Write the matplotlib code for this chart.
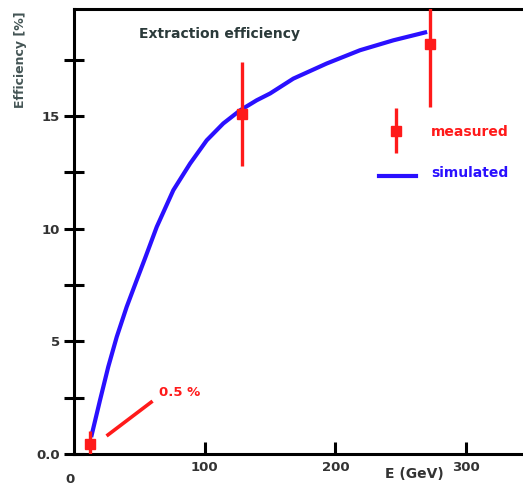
import matplotlib.pyplot as plt

# simulated extraction efficiency curve
sim_e = [13.5, 19.9, 26.2, 32.7, 40.3, 48.0, 54.3, 63.3, 76.0, 88.8,
         101.5, 114.2, 127.0, 139.8, 150.0, 167.8, 193.3, 218.8, 244.3, 268.6]
sim_eff = [0.84, 2.39, 3.87, 5.20, 6.53, 7.72, 8.68, 10.08, 11.71, 12.89,
           13.92, 14.67, 15.25, 15.70, 16.00, 16.66, 17.33, 17.92, 18.36, 18.71]

# measured points
meas_e = [12.5, 128.3, 272.0]
meas_eff = [0.45, 15.1, 18.2]
meas_err = [0.55, 2.3, 2.8]

yticks = [0, 2.5, 5, 7.5, 10, 12.5, 15, 17.5]
ylabels = ['0.0', '', '5', '', '10', '', '15', '']
xticks = [100, 200, 300]

red = '#ff1a1a'
blue = '#2a10ff'
txt = '#333333'

plt.rcParams['font.family'] = ['DejaVu Sans']

fig = plt.figure(figsize=(5.23, 4.86), dpi=100)
ax = fig.add_axes([0.1415, 0.0658, 0.8585, 0.9157])

ax.plot(sim_e, sim_eff, color=blue, lw=3.0, zorder=2, solid_joinstyle='round')
ax.errorbar(meas_e, meas_eff, yerr=meas_err, fmt='s', color=red, ms=7,
            elinewidth=2.4, capsize=0, zorder=3)

ax.set_xlim(0, 343.5)
ax.set_ylim(0, 19.75)

ax.set_xticks(xticks)
ax.set_xticklabels([str(v) for v in xticks], fontsize=9.5, fontweight='bold', color=txt)
ax.set_yticks(yticks)
ax.set_yticklabels(ylabels, fontsize=9.5, fontweight='bold', color=txt)
ax.tick_params(axis='x', direction='in', length=9, width=2.2, pad=5)
ax.tick_params(axis='y', direction='inout', length=14, width=2.2, pad=3)

for s in ['left', 'bottom', 'top']:
    ax.spines[s].set_linewidth(2.2)
ax.spines['right'].set_visible(False)

ax.text(-0.01, -0.042, '0', transform=ax.transAxes, fontsize=9.5,
        fontweight='bold', color=txt, ha='center', va='top')
ax.text(0.757, -0.03, 'E (GeV)', transform=ax.transAxes, fontsize=10,
        fontweight='bold', color=txt, ha='center', va='top')
ax.text(-0.12, 0.885, 'Efficiency [%]', transform=ax.transAxes, fontsize=9,
        fontweight='bold', color='#445555', rotation=90, ha='center', va='center')

ax.text(50, 18.65, 'Extraction efficiency', fontsize=10, fontweight='bold',
        color='#2b3a3a', va='center')

# "0.5 %" note with pointer line
ax.plot([26, 59], [0.85, 2.3], color=red, lw=2.6)
ax.text(65, 2.75, '0.5 %', fontsize=9.5, fontweight='bold', color=red, va='center')

# hand-drawn legend
ax.errorbar([246], [14.35], yerr=[1.0], fmt='s', color=red, ms=7,
            elinewidth=2.4, capsize=0)
ax.text(273, 14.3, 'measured', fontsize=10, fontweight='bold', color=red, va='center')
ax.plot([233, 262], [12.35, 12.35], color=blue, lw=3.0)
ax.text(273, 12.45, 'simulated', fontsize=10, fontweight='bold', color=blue, va='center')

fig.savefig('out.png', dpi=100)
